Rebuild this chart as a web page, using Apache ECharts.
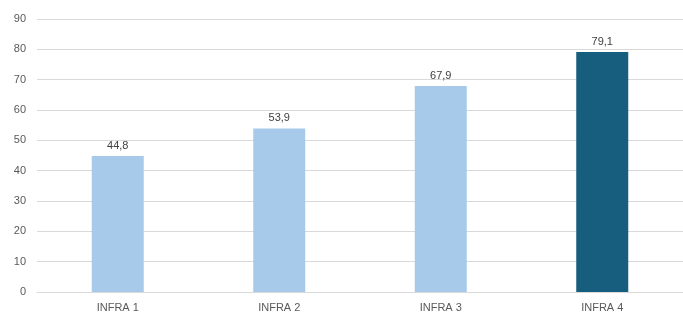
<!DOCTYPE html>
<html>
<head>
<meta charset="utf-8">
<script src="https://cdn.jsdelivr.net/npm/echarts@6/dist/echarts.min.js"></script>
<style>
html, body { margin: 0; padding: 0; background: #fff; }
#chart { width: 683px; height: 316px; }
</style>
</head>
<body>
<div id="chart"></div>
<script>
var categories = ['INFRA 1', 'INFRA 2', 'INFRA 3', 'INFRA 4'];
var values = [44.8, 53.9, 67.9, 79.1];
var barColors = ['#a7caeb', '#a7caeb', '#a7caeb', '#165d7e'];

var chart = echarts.init(document.getElementById('chart'));
var option = {
    animation: false,
    grid: { left: 37, top: 19, width: 650, bottom: 24 },
    xAxis: {
        type: 'category',
        data: categories,
        axisLine: { lineStyle: { color: '#d9d9d9', width: 1 } },
        axisTick: { show: false },
        axisLabel: { color: '#595959', fontSize: 11, fontFamily: 'Liberation Sans', margin: 10 }
    },
    yAxis: {
        type: 'value',
        min: 0,
        max: 90,
        interval: 10,
        axisLine: { show: false },
        axisTick: { show: false },
        splitLine: { lineStyle: { color: '#d9d9d9', width: 1 } },
        axisLabel: { color: '#595959', fontSize: 11, fontFamily: 'Liberation Sans', margin: 11 }
    },
    series: [{
        type: 'bar',
        barWidth: 52,
        data: values.map(function (v, i) {
            return { value: v, itemStyle: { color: barColors[i] } };
        }),
        label: {
            show: true,
            position: 'top',
            distance: 5,
            color: '#404040',
            fontSize: 11,
            fontFamily: 'Liberation Sans',
            formatter: function (p) { return p.value.toFixed(1).replace('.', ','); }
        }
    }]
};
chart.setOption(option);
</script>
</body>
</html>
